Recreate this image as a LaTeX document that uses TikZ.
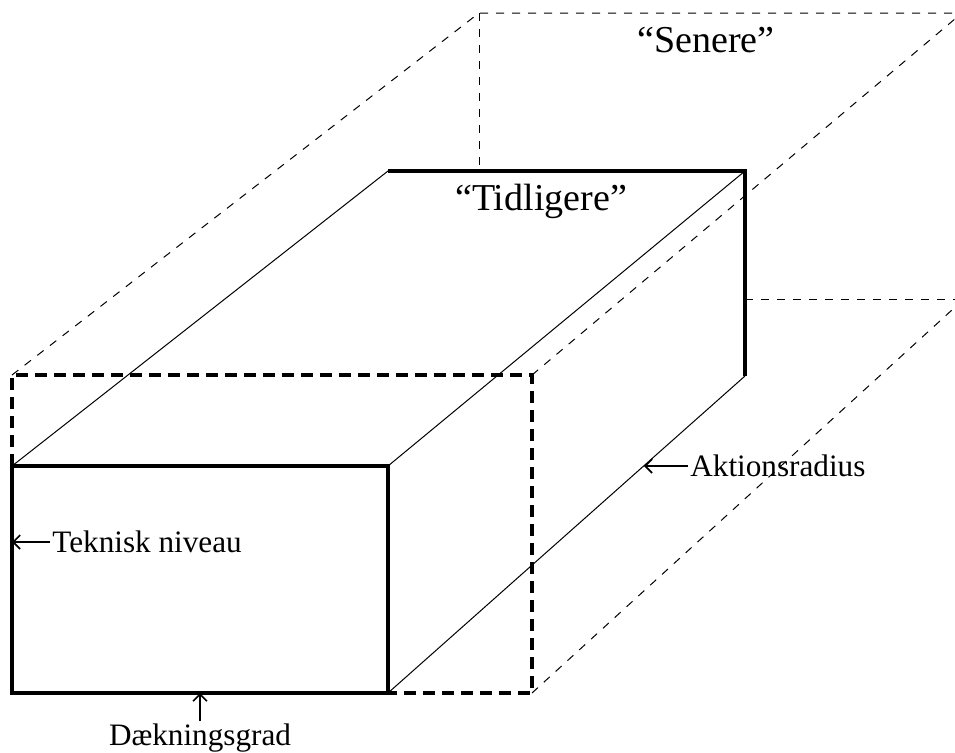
\documentclass[tikz,border=0pt]{standalone}
\usepackage{fontspec}
\setmainfont{Liberation Serif}
\usetikzlibrary{arrows.meta,positioning}
\tikzset{
  edge/.style={line width=1.6pt},
  thinedge/.style={line width=0.5pt},
  hidden/.style={line width=1.6pt, dash pattern=on 6pt off 3.5pt},
  thinhidden/.style={line width=0.5pt, dash pattern=on 4pt off 4pt},
  lbl/.style={inner sep=1pt, font=\fontsize{15.6}{18}\selectfont},
  ttl/.style={inner sep=0pt, anchor=base, font=\fontsize{19}{22}\selectfont},
  pointer/.style={-{Straight Barb[length=3.5pt,width=7pt]}, line width=0.8pt},
}

\begin{document}
\begin{tikzpicture}[x=0.5pt, y=-0.5pt]
\useasboundingbox (0,0) rectangle (955,752);
\clip (0,0) rectangle (955,752);

% earlier box (solid)
\coordinate (F1) at (12,466);
\coordinate (F2) at (388,466);
\coordinate (F3) at (388,693);
\coordinate (F4) at (12,693);
\coordinate (B1) at (388,171);
\coordinate (B2) at (745,171);
\coordinate (B3) at (745,376);

% later box (dashed)
\coordinate (D1) at (12,375);
\coordinate (D2) at (532,375);
\coordinate (D3) at (532,693);
\coordinate (E1) at (479,13);
\coordinate (E2) at (962,13);
\coordinate (E3) at (964,299);
\coordinate (E4) at (479,171);
\coordinate (E5) at (745,299);

\draw[thinhidden] (D1) -- (E1) -- (E2);
\draw[thinhidden] (E1) -- (E4);
\draw[thinhidden] (D2) -- (E2);
\draw[thinhidden] (D3) -- (E3);
\draw[thinhidden] (E5) -- (E3);
\draw[hidden] (F1) -- (D1) -- (D2) -- (D3) -- (F3);

\draw[thinedge] (F1) -- (B1);
\draw[thinedge] (F2) -- (B2);
\draw[thinedge] (F3) -- (B3);
\draw[edge] (F1) rectangle (F3);
\draw[edge] (B1) -- (B2) -- (B3);

% labels
\node[ttl] (sen) at (706,52) {“Senere”};
\node[ttl] (tid) at (541,210) {“Tidligere”};

\coordinate (tekpt) at (12,542);
\node[lbl, right=19pt of tekpt] (tek) {Teknisk niveau};
\draw[pointer] (tek) -- (tekpt);

\coordinate (dekpt) at (200,693);
\node[lbl, below=14pt of dekpt] (dek) {Dækningsgrad};
\draw[pointer] (dek) -- (dekpt);

\coordinate (akpt) at (644,466);
\node[lbl, right=22pt of akpt] (akt) {Aktionsradius};
\draw[pointer] (akt) -- (akpt);
\end{tikzpicture}
\end{document}
